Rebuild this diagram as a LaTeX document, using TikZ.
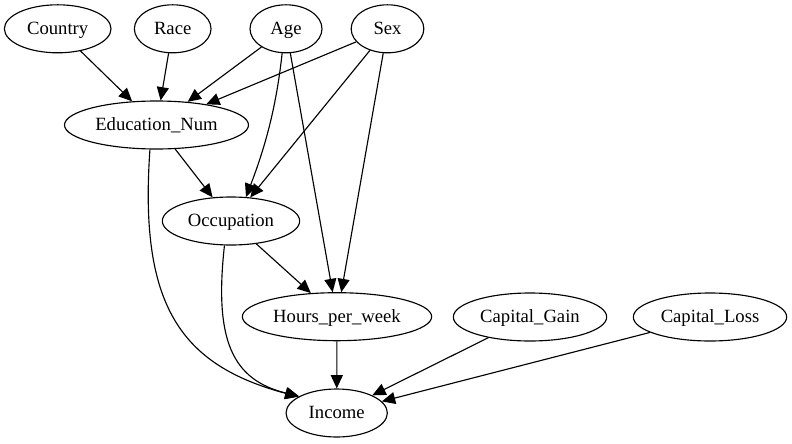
\documentclass[tikz,border=0pt]{standalone}
\usepackage{fontspec}
\setmainfont{Liberation Serif}
\usetikzlibrary{arrows.meta,shapes.geometric}

\tikzset{
  var/.style={draw,ellipse,line width=0.85pt,minimum height=36pt,inner sep=0pt,text height=11.2pt,text depth=3pt,font=\fontsize{14}{16}\selectfont},
  dep/.style={-{Triangle[length=10pt,width=9pt]},line width=0.85pt}
}

\begin{document}
\begin{tikzpicture}[x=0.75pt,y=-0.75pt]
\useasboundingbox (0,0) rectangle (792,443);
\node[var,minimum width=80pt] (cty) at (57.7,28.8) {Country};
\node[var,minimum width=57.5pt] (race) at (172.7,28.8) {Race};
\node[var,minimum width=54pt] (age) at (286,28.8) {Age};
\node[var,minimum width=54.5pt] (sex) at (387.5,28.8) {Sex};
\node[var,minimum width=138pt] (edu) at (156.5,125) {Education\_Num};
\node[var,minimum width=103pt] (occ) at (231,221) {Occupation};
\node[var,minimum width=142pt] (hrs) at (337,316.7) {Hours\_per\_week};
\node[var,minimum width=115pt] (gain) at (530,317) {Capital\_Gain};
\node[var,minimum width=115pt] (loss) at (710,317) {Capital\_Loss};
\node[var,minimum width=76pt] (inc) at (336.7,413) {Income};
\draw[dep] (cty)--(edu);
\draw[dep] (race)--(edu);
\draw[dep] (age)--(edu);
\draw[dep] (sex)--(edu);
\draw[dep] (sex)--(occ);
\draw[dep] (age)--(hrs);
\draw[dep] (sex)--(hrs);
\draw[dep] (edu)--(occ);
\draw[dep] (occ)--(hrs);
\draw[dep] (hrs)--(inc);
\draw[dep] (gain)--(inc);
\draw[dep] (loss)--(inc);
% curved edges
\draw[dep] (age.261) .. controls (276,110) and (264,150) .. (occ.58);
\draw[dep] (edu.255) .. controls (139,305) and (180,365) .. (inc.157);
\draw[dep] (occ.255) .. controls (214,340) and (232,380) .. (inc.156);
\end{tikzpicture}
\end{document}
